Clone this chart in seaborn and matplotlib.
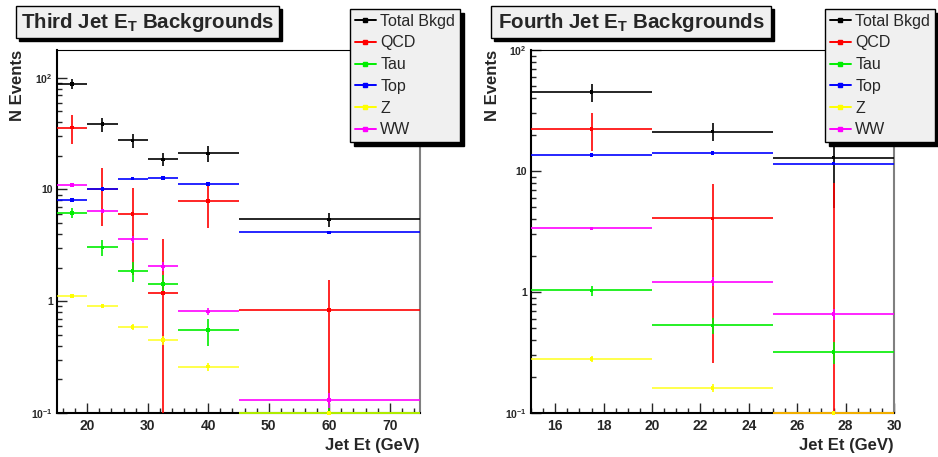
import numpy as np
import pandas as pd
import matplotlib
matplotlib.use("Agg")
import matplotlib.pyplot as plt
from matplotlib.patches import Rectangle
from matplotlib.lines import Line2D
from matplotlib.ticker import FixedLocator, FixedFormatter, MultipleLocator, LogLocator, NullFormatter
import seaborn as sns

sns.set_style("white")
plt.rcParams['font.family'] = ['Liberation Sans', 'DejaVu Sans']
plt.rcParams['font.weight'] = 'bold'
plt.rcParams['mathtext.fontset'] = 'custom'
plt.rcParams['mathtext.rm'] = 'Liberation Sans:bold'
plt.rcParams['mathtext.bf'] = 'Liberation Sans:bold'
plt.rcParams['mathtext.it'] = 'Liberation Sans:bold'
plt.rcParams['mathtext.default'] = 'rm'

samples = ['Total Bkgd', 'QCD', 'Tau', 'Top', 'Z', 'WW']
colors = {'Total Bkgd': '#000000', 'QCD': '#ff0000', 'Tau': '#00ee00',
          'Top': '#0000ff', 'Z': '#ffff00', 'WW': '#ff00ff'}

# third jet ET, bins 15-20-25-30-35-45-75
third_edges = [15, 20, 25, 30, 35, 45, 75]
third_vals = {
    'Total Bkgd': [88, 38.3, 27.5, 18.6, 21.0, 5.4],
    'QCD':        [35.8, 10.2, 6.0, 1.18, 7.9, 0.83],
    'Tau':        [6.2, 3.03, 1.86, 1.43, 0.55, 0.0],
    'Top':        [8.0, 10.1, 12.5, 12.7, 11.2, 4.13],
    'Z':          [1.11, 0.91, 0.59, 0.45, 0.26, 0.0],
    'WW':         [11.0, 6.4, 3.57, 2.05, 0.81, 0.13],
}
third_errs = {
    'Total Bkgd': [9.0, 5.5, 4.0, 2.5, 3.4, 0.8],
    'QCD':        [10.2, 5.5, 4.3, 2.4, 3.4, 0.73],
    'Tau':        [0.6, 0.5, 0.37, 0.3, 0.15, 0.12],
    'Top':        [0.3, 0.3, 0.3, 0.3, 0.3, 0.1],
    'Z':          [0.05, 0.04, 0.04, 0.04, 0.02, 0.0],
    'WW':         [0.3, 0.3, 0.25, 0.2, 0.06, 0.02],
}

# fourth jet ET, bins 15-20-25-30
fourth_edges = [15, 20, 25, 30]
fourth_vals = {
    'Total Bkgd': [44.7, 21.2, 12.9],
    'QCD':        [22.3, 4.06, 0.0],
    'Tau':        [1.03, 0.53, 0.32],
    'Top':        [13.5, 14.0, 11.5],
    'Z':          [0.28, 0.161, 0.0],
    'WW':         [3.35, 1.22, 0.66],
}
fourth_errs = {
    'Total Bkgd': [7.7, 3.6, 8.0],
    'QCD':        [7.7, 3.8, 8.0],
    'Tau':        [0.1, 0.08, 0.065],
    'Top':        [0.3, 0.3, 0.3],
    'Z':          [0.015, 0.012, 0.0],
    'WW':         [0.12, 0.1, 0.07],
}


def to_frame(edges, vals, errs):
    rows = []
    for s in samples:
        for i in range(len(edges) - 1):
            rows.append({'sample': s, 'lo': edges[i], 'hi': edges[i + 1],
                         'x': 0.5 * (edges[i] + edges[i + 1]),
                         'y': vals[s][i], 'err': errs[s][i]})
    return pd.DataFrame(rows)


def draw_panel(ax, df, ymin, ymax):
    ax.set_yscale('log')
    ax.set_ylim(ymin, ymax)
    for s in samples:
        d = df[df['sample'] == s]
        yy = d['y'].clip(lower=ymin)
        c = colors[s]
        a = 0.7 if s == 'Z' else 0.85
        ax.hlines(yy, d['lo'], d['hi'], color=c, lw=1.4, alpha=a, clip_on=False, zorder=3)
        ax.vlines(d['x'], (d['y'] - d['err']).clip(lower=ymin * 0.5), d['y'] + d['err'],
                  color=c, lw=1.4, alpha=0.85, zorder=3)
    df2 = df.copy()
    df2['y'] = df2['y'].clip(lower=ymin)
    sns.scatterplot(data=df2, x='x', y='y', hue='sample', palette=colors, marker='s',
                    s=7, linewidth=0, legend=False, ax=ax, zorder=4, clip_on=False)
    ax.set_ylabel('N Events', fontsize=12, fontweight='bold', loc='top')
    ax.set_xlabel('Jet Et (GeV)', fontsize=12, fontweight='bold', loc='right')
    ax.tick_params(which='both', direction='in', left=True, bottom=True, top=False, right=False)
    ax.tick_params(which='major', length=7, width=1)
    ax.tick_params(which='minor', length=3.5, width=1)
    ax.tick_params(axis='x', labelsize=10, pad=4)
    ax.tick_params(axis='y', labelsize=7.5, pad=3)
    ax.yaxis.set_major_locator(FixedLocator([0.1, 1, 10, 100]))
    ax.yaxis.set_major_formatter(FixedFormatter([r'$10^{-1}$', '1', '10', r'$10^{2}$']))
    ax.yaxis.set_minor_locator(LogLocator(base=10, subs=np.arange(2, 10)))
    ax.yaxis.set_minor_formatter(NullFormatter())
    for sp in ['left', 'bottom']:
        ax.spines[sp].set_linewidth(1.5)
        ax.spines[sp].set_color('black')
    ax.spines['top'].set_linewidth(0.8)
    ax.spines['top'].set_color('black')
    ax.spines['right'].set_linewidth(1.5)
    ax.spines['right'].set_color('#808080')
    for lab in ax.get_xticklabels() + ax.get_yticklabels():
        lab.set_fontweight('bold')


fig = plt.figure(figsize=(9.38, 4.57), dpi=100)
W, H = 938.0, 457.0

ax1 = fig.add_axes([57 / W, 1 - 413 / H, 363 / W, 363 / H])
ax2 = fig.add_axes([531 / W, 1 - 413 / H, 363 / W, 363 / H])

draw_panel(ax1, to_frame(third_edges, third_vals, third_errs), 0.1, 177)
ax1.set_xlim(15, 75)
ax1.xaxis.set_major_locator(MultipleLocator(10))
ax1.xaxis.set_minor_locator(MultipleLocator(2))

draw_panel(ax2, to_frame(fourth_edges, fourth_vals, fourth_errs), 0.1, 100)
ax2.set_xlim(15, 30)
ax2.xaxis.set_major_locator(MultipleLocator(2))
ax2.xaxis.set_minor_locator(MultipleLocator(0.5))

ax1.yaxis.set_label_coords(-0.088, 1.0)
ax2.yaxis.set_label_coords(-0.085, 1.0)

# title boxes with drop shadow (pixel boxes)
titles = [(16, 6, 279, 38, r'Third Jet E$_{T}$ Backgrounds'),
          (491, 6, 771, 38, r'Fourth Jet E$_{T}$ Backgrounds')]
for x0, y0, x1, y1, txt in titles:
    fig.patches.append(Rectangle((x0 / W + 3 / W, 1 - y1 / H - 3 / H), (x1 - x0) / W, (y1 - y0) / H,
                                 transform=fig.transFigure, fc='black', ec='black', zorder=5))
    fig.patches.append(Rectangle((x0 / W, 1 - y1 / H), (x1 - x0) / W, (y1 - y0) / H,
                                 transform=fig.transFigure, fc='#f0f0f0', ec='black', lw=1, zorder=6))
    fig.text((x0 + x1) / 2 / W, 1 - (y0 + y1) / 2 / H, txt, ha='center', va='center',
             fontsize=14.8, fontweight='bold', zorder=7)

# legends
handles = [Line2D([], [], color=colors[s], lw=1.4, marker='s', markersize=2.5) for s in samples]
for right in (460, 935):
    leg = fig.legend(handles, samples, loc='upper right',
                     bbox_to_anchor=(right / W, 1 - 9 / H), bbox_transform=fig.transFigure,
                     borderaxespad=0, fontsize=11.5, frameon=True, fancybox=False, handlelength=1.3,
                     handletextpad=0.3, labelspacing=0.42, borderpad=0.3,
                     shadow={'facecolor': 'black', 'edgecolor': 'black', 'alpha': 1, 'ox': 3, 'oy': -3})
    leg.get_frame().set_facecolor('#f0f0f0')
    leg.get_frame().set_edgecolor('black')
    leg.get_frame().set_linewidth(1)
    leg.set_zorder(10)
    for t in leg.get_texts():
        t.set_fontweight('normal')

fig.savefig('out.png', dpi=100)
